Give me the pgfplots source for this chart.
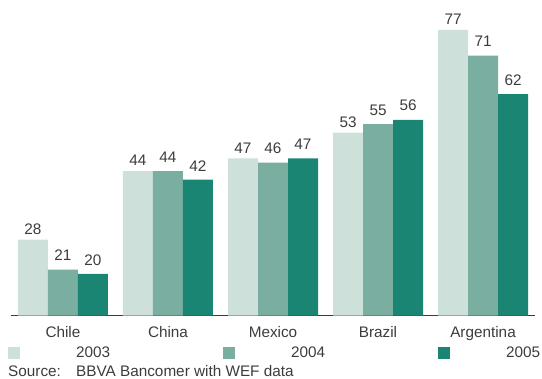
\documentclass[border=0pt]{standalone}
\usepackage{pgfplots}
\pgfplotsset{compat=1.18}
\usepackage{fontspec}
\setmainfont{Liberation Sans}
\definecolor{c2003}{RGB}{205,224,218}
\definecolor{c2004}{RGB}{122,174,161}
\definecolor{c2005}{RGB}{27,133,115}
\definecolor{txt}{RGB}{60,60,60}
\begin{document}
\begin{tikzpicture}[font=\fontsize{15.3bp}{18bp}\selectfont]
\useasboundingbox (0,0) rectangle (542bp,379bp);
\begin{axis}[
  at={(11bp,63.5bp)}, anchor=south west,
  scale only axis, width=524bp, height=315.5bp,
  xmin=-0.495, xmax=4.495, ymin=10.3, ymax=83.96,
  axis x line=bottom, axis y line=none,
  x axis line style={-, draw=txt, line width=1.4bp},
  xtick=data, xticklabels={Chile,China,Mexico,Brazil,Argentina},
  xtick style={draw=none},
  xticklabel style={anchor=north, inner sep=0pt, yshift=-6.5bp, text=txt},
  ytick=\empty,
  /pgf/number format/assume math mode=true,
  ybar, bar width=30bp,
  nodes near coords,
  every node near coord/.append style={inner sep=0pt, anchor=south, text=txt},
  legend columns=3,
  legend style={draw=none, fill=none, at={(-0.005725,-0.1189)}, anchor=west,
    inner sep=0pt, outer sep=0pt, nodes={inner sep=0pt, text=txt},
    /tikz/every even column/.append style={column sep=113bp}},
  legend image code/.code={\path[#1,draw=none] (0bp,-6bp) rectangle (12bp,6bp); \path[draw=none,fill=none] (0bp,0bp) rectangle (68bp,0.1bp);},
]
\addplot[fill=c2003, draw=none, bar shift=-30bp,
  every node near coord/.append style={yshift=5bp}]
  coordinates {(0,28) (1,44) (2,47) (3,53) (4,77)};
\addplot[fill=c2004, draw=none, bar shift=0bp,
  every node near coord/.append style={yshift=8.5bp}]
  coordinates {(0,21) (1,44) (2,46) (3,55) (4,71)};
\addplot[fill=c2005, draw=none, bar shift=30bp,
  every node near coord/.append style={yshift=8.5bp}]
  coordinates {(0,20) (1,42) (2,47) (3,56) (4,62)};
\legend{2003,2004,2005}
\end{axis}
\node[anchor=base west, inner sep=0pt, text=txt] at (8bp,3bp) {Source:};
\node[anchor=base west, inner sep=0pt, text=txt] at (76bp,3bp) {BBVA Bancomer with WEF data};
\end{tikzpicture}
\end{document}
